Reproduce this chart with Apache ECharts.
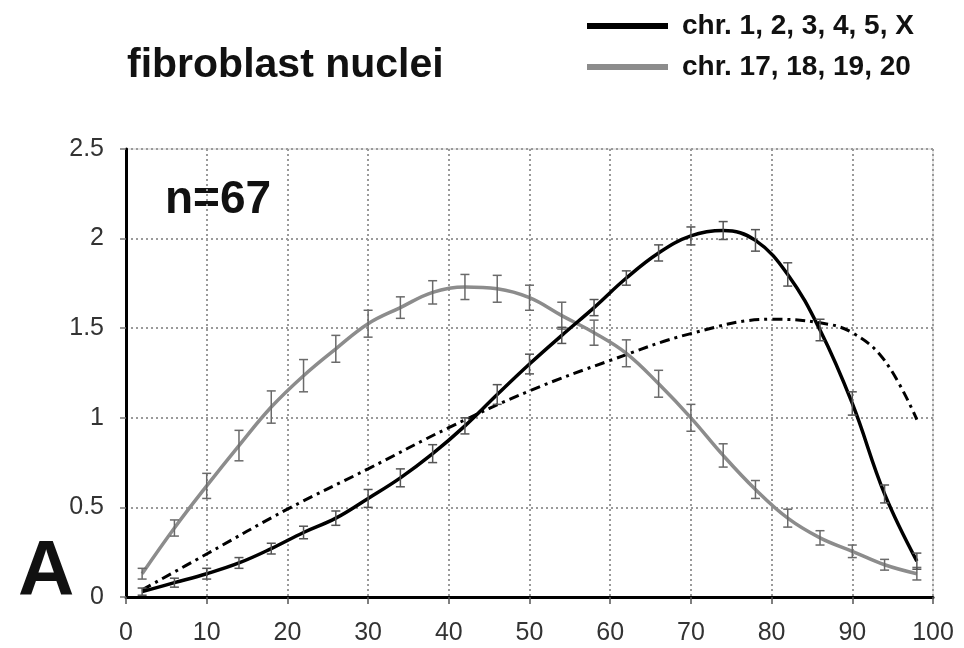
<!DOCTYPE html>
<html>
<head>
<meta charset="utf-8">
<title>fibroblast nuclei</title>
<script src="https://cdn.jsdelivr.net/npm/echarts@6/dist/echarts.min.js"></script>
<style>
    html, body { margin: 0; padding: 0; background: #fff; }
    #chart { width: 964px; height: 648px; }
</style>
</head>
<body>
<div id="chart"></div>
<script>
//数据：横坐标（相对位置 %）
var posX = [2, 6, 10, 14, 18, 22, 26, 30, 34, 38, 42, 46, 50, 54, 58, 62, 66, 70, 74, 78, 82, 86, 90, 94, 98];
//chr. 1, 2, 3, 4, 5, X
var bigChr = [0.03, 0.08, 0.13, 0.19, 0.27, 0.36, 0.44, 0.55, 0.665, 0.80, 0.955, 1.13, 1.30, 1.46, 1.615, 1.78, 1.92, 2.015, 2.045, 1.99, 1.80, 1.49, 1.08, 0.575, 0.20];
var bigErr = [0.02, 0.025, 0.03, 0.03, 0.03, 0.035, 0.04, 0.05, 0.05, 0.05, 0.045, 0.055, 0.055, 0.045, 0.045, 0.04, 0.045, 0.05, 0.05, 0.06, 0.065, 0.06, 0.065, 0.05, 0.045];
//chr. 17, 18, 19, 20
var smallChr = [0.13, 0.385, 0.62, 0.845, 1.06, 1.235, 1.385, 1.525, 1.615, 1.70, 1.73, 1.72, 1.67, 1.57, 1.475, 1.36, 1.19, 1.0, 0.79, 0.60, 0.44, 0.33, 0.255, 0.18, 0.13];
var smallErr = [0.03, 0.045, 0.07, 0.085, 0.09, 0.09, 0.075, 0.075, 0.06, 0.065, 0.07, 0.075, 0.07, 0.075, 0.07, 0.075, 0.075, 0.075, 0.065, 0.05, 0.05, 0.04, 0.035, 0.03, 0.035];
//虚线
var dashX = [2, 10, 20, 30, 40, 50, 60, 70, 80, 86, 90, 94, 98];
var dashY = [0.04, 0.24, 0.49, 0.715, 0.945, 1.15, 1.32, 1.47, 1.55, 1.53, 1.475, 1.32, 0.99];
//图注
var names = ["chr. 1, 2, 3, 4, 5, X", "chr. 17, 18, 19, 20"];

var font = "'Liberation Sans', Arial, Helvetica, sans-serif";

function pairs(xs, ys) {
    return xs.map(function (x, i) { return [x, ys[i]]; });
}
function errData(ys, errs) {
    return posX.map(function (x, i) { return [x, ys[i] - errs[i], ys[i] + errs[i]]; });
}
//误差线
function errorBar(color) {
    return function (params, api) {
        var x = api.value(0);
        var lo = api.coord([x, api.value(1)]);
        var hi = api.coord([x, api.value(2)]);
        var w = 4.5;
        var st = { stroke: color, lineWidth: 1.5 };
        return {
            type: 'group',
            children: [
                { type: 'line', shape: { x1: lo[0], y1: lo[1], x2: hi[0], y2: hi[1] }, style: st },
                { type: 'line', shape: { x1: lo[0] - w, y1: lo[1], x2: lo[0] + w, y2: lo[1] }, style: st },
                { type: 'line', shape: { x1: hi[0] - w, y1: hi[1], x2: hi[0] + w, y2: hi[1] }, style: st }
            ]
        };
    };
}

var gridLine = { lineStyle: { color: '#9a9a9a', type: [2, 3], width: 2 } };

var myChart = echarts.init(document.getElementById('chart'));
var option = {
    backgroundColor: '#fff',
    animation: false,
    title: {
        text: 'fibroblast nuclei',
        left: 122,
        top: 40,
        textStyle: { fontFamily: font, fontSize: 41, fontWeight: 'bold', color: '#111' }
    },
    legend: {
        data: names,
        orient: 'vertical',
        left: 587,
        top: 12,
        padding: 0,
        icon: 'rect',
        itemWidth: 81,
        itemHeight: 6,
        itemGap: 13,
        selectedMode: false,
        textStyle: { fontFamily: font, fontSize: 28, fontWeight: 'bold', color: '#111', lineHeight: 28, padding: [0, 0, 0, 9] }
    },
    grid: {
        left: 126,
        right: 31,
        top: 149,
        bottom: 51,
        show: true,
        borderColor: '#ccc',
        borderWidth: 1
    },
    xAxis: {
        type: 'value',
        min: 0,
        max: 100,
        interval: 10,
        axisLine: { lineStyle: { color: '#000', width: 3 } },
        axisTick: { show: true, length: 7, lineStyle: { color: '#555', width: 1.5 } },
        axisLabel: { fontFamily: font, fontSize: 25, color: '#333', margin: 24 },
        splitLine: gridLine
    },
    yAxis: {
        type: 'value',
        min: 0,
        max: 2.5,
        interval: 0.5,
        axisLine: { show: true, lineStyle: { color: '#000', width: 3 } },
        axisTick: { show: true, length: 6, lineStyle: { color: '#777', width: 1.5 } },
        axisLabel: { fontFamily: font, fontSize: 25, color: '#333', margin: 22 },
        splitLine: gridLine
    },
    graphic: [
        {
            type: 'text', left: 165, top: 177,
            style: { text: 'n=67', font: 'bold 46px ' + font, fill: '#111' }
        },
        {
            type: 'text', left: 18, top: 534,
            style: { text: 'A', font: 'bold 78px ' + font, fill: '#111' }
        }
    ],
    series: [
        {
            name: 'dashed',
            type: 'line',
            data: pairs(dashX, dashY),
            smooth: 0.4,
            showSymbol: false,
            lineStyle: { color: '#000', width: 3, type: [10, 5, 3, 5] },
            z: 3
        },
        {
            name: names[1],
            type: 'line',
            data: pairs(posX, smallChr),
            smooth: 0.4,
            showSymbol: false,
            color: '#8c8c8c',
            lineStyle: { color: '#8c8c8c', width: 3.5 },
            z: 3
        },
        {
            name: names[0],
            type: 'line',
            data: pairs(posX, bigChr),
            smooth: 0.4,
            showSymbol: false,
            color: '#000',
            lineStyle: { color: '#000', width: 3.5 },
            z: 4
        },
        {
            type: 'custom',
            renderItem: errorBar('#6a6a6a'),
            data: errData(smallChr, smallErr),
            encode: { x: 0, y: [1, 2] },
            z: 5
        },
        {
            type: 'custom',
            renderItem: errorBar('#555'),
            data: errData(bigChr, bigErr),
            encode: { x: 0, y: [1, 2] },
            z: 5
        }
    ]
};
myChart.setOption(option);
</script>
</body>
</html>
